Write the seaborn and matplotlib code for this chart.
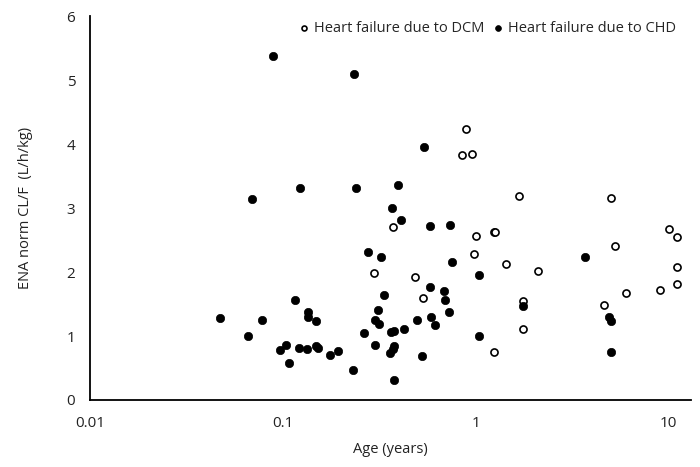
import pandas as pd
import matplotlib.pyplot as plt
import seaborn as sns

# Heart failure due to DCM (open circles)
dcm_age = [0.885, 0.844, 0.951, 1.68, 5.05, 0.374, 1.0, 1.25, 1.26, 10.0, 11.1,
           0.98, 1.43, 2.09, 5.27, 11.1, 11.1, 9.06, 6.01, 4.60, 0.296, 0.486,
           0.53, 1.75, 1.75, 1.25]
dcm_cl = [4.24, 3.83, 3.84, 3.19, 3.16, 2.70, 2.57, 2.63, 2.62, 2.68, 2.54,
          2.28, 2.12, 2.02, 2.41, 2.08, 1.82, 1.72, 1.67, 1.49, 1.98, 1.93,
          1.59, 1.54, 1.11, 0.745]

# Heart failure due to CHD (filled circles)
chd_age = [0.047, 0.066, 0.0776, 0.116, 0.135, 0.135, 0.148, 0.0968, 0.104, 0.107,
           0.121, 0.133, 0.148, 0.152, 0.175, 0.194, 0.0885, 0.0689, 0.123,
           0.235, 0.542, 0.240, 0.397, 0.366, 0.410, 0.579, 0.733,
           0.275, 0.322, 0.757, 1.04, 3.68, 0.336, 0.310, 0.579, 0.681, 0.692,
           0.724, 0.300, 0.316, 0.263, 0.363, 0.375, 0.422, 0.493, 0.585, 0.616,
           0.301, 0.375, 0.371, 0.361, 0.527, 0.376, 0.231, 1.04, 1.75, 4.93,
           5.03, 5.03]
chd_cl = [1.28, 1.0, 1.25, 1.56, 1.38, 1.30, 1.23, 0.78, 0.86, 0.58,
          0.81, 0.80, 0.84, 0.81, 0.70, 0.77, 5.375, 3.14, 3.32,
          5.09, 3.95, 3.32, 3.36, 3.0, 2.81, 2.72, 2.73,
          2.31, 2.24, 2.16, 1.96, 2.23, 1.64, 1.41, 1.76, 1.71, 1.57,
          1.375, 1.25, 1.19, 1.04, 1.07, 1.08, 1.11, 1.25, 1.29, 1.17,
          0.86, 0.84, 0.80, 0.73, 0.68, 0.31, 0.47, 1.0, 1.47, 1.29,
          1.24, 0.745]

x_ticks = [0.01, 0.1, 1, 10]
x_tick_labels = ['0.01', '0.1', '1', '10']

dcm = pd.DataFrame({'Age': dcm_age, 'CL': dcm_cl})
chd = pd.DataFrame({'Age': chd_age, 'CL': chd_cl})

sns.set_style("white")
plt.rcParams['font.family'] = ['Open Sans', 'DejaVu Sans']

fig = plt.figure(figsize=(7, 4.67), dpi=100)
ax = fig.add_axes([0.1286, 0.1435, 0.858, 0.822])

sns.scatterplot(data=dcm, x='Age', y='CL', ax=ax, marker='o', s=26,
                facecolor='white', edgecolor='black', linewidth=1.2,
                label='Heart failure due to DCM', zorder=3)
sns.scatterplot(data=chd, x='Age', y='CL', ax=ax, marker='o', s=36,
                color='black', edgecolor='black', linewidth=0.5,
                label='Heart failure due to CHD', zorder=3)

ax.set_xscale('log')
ax.set_xlim(0.01, 13.0)
ax.set_ylim(0, 6)
ax.set_xticks(x_ticks)
ax.set_xticklabels(x_tick_labels)
ax.minorticks_off()
ax.set_yticks(range(0, 7))

for side in ['top', 'right']:
    ax.spines[side].set_visible(False)
for side in ['left', 'bottom']:
    ax.spines[side].set_color('black')
    ax.spines[side].set_linewidth(1.3)
ax.tick_params(axis='both', direction='out', length=3.6, width=1.2,
               color='black', labelsize=11, labelcolor='#222222')
ax.tick_params(axis='x', pad=8)
ax.tick_params(axis='y', pad=7)

ax.set_xlabel('Age (years)', fontsize=10.5, color='#222222', labelpad=8)
ax.set_ylabel('ENA norm CL/F  (L/h/kg)', fontsize=10.5, color='#222222', labelpad=24)

ax.legend(loc='upper right', bbox_to_anchor=(0.99, 1.01), ncol=2, frameon=False,
          fontsize=10.5, handlelength=0.6, handletextpad=0.4, columnspacing=0.6,
          markerscale=0.7, borderaxespad=0.2)

plt.savefig('out.png', dpi=100)
